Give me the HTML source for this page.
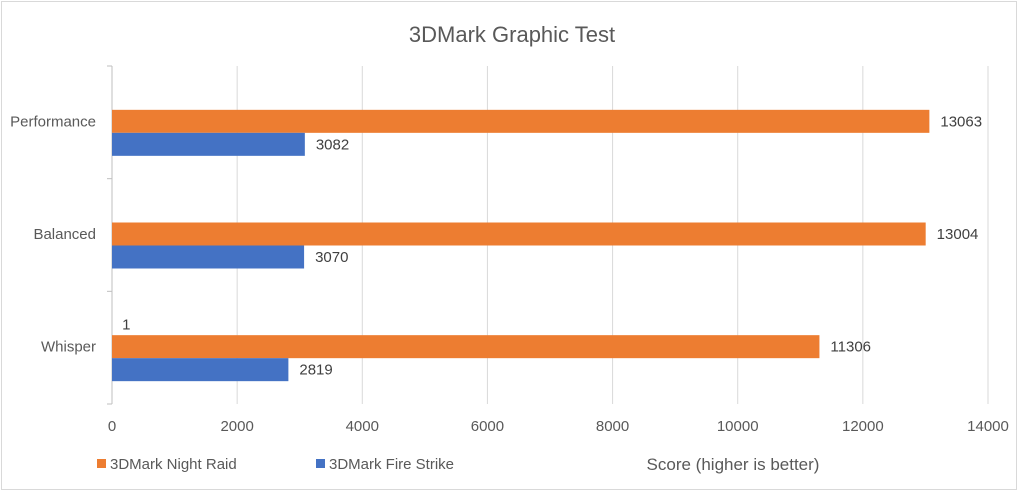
<!DOCTYPE html>
<html><head><meta charset="utf-8"><style>
body{margin:0;background:#fff;font-family:"Liberation Sans",sans-serif;}
#wrap{position:relative;width:1024px;height:494px;}
</style></head><body>
<div id="wrap">
<svg id="svg" width="1024" height="494" xmlns="http://www.w3.org/2000/svg">
<rect x="1.5" y="1.5" width="1015" height="488" fill="#fff" stroke="#d9d9d9"/>
<text x="512" y="42" text-anchor="middle" font-size="22" fill="#595959">3DMark Graphic Test</text>
<g id="grid"></g><g id="bars"></g><g id="labels"></g>
<rect x="97" y="459" width="9" height="9" fill="#ed7d31"/>
<text x="110" y="469" font-size="15" fill="#595959">3DMark Night Raid</text>
<rect x="316" y="459" width="9" height="9" fill="#4472c4"/>
<text x="329" y="469" font-size="15" fill="#595959">3DMark Fire Strike</text>
<text x="733" y="470" text-anchor="middle" font-size="17" fill="#595959">Score (higher is better)</text>
</svg></div>
<script>
const categories=["Performance","Balanced","Whisper"];
const nightRaid=[13063,13004,11306];
const fireStrike=[3082,3070,2819];
const hiddenSeries=[null,null,1];
const xTicks=[0,2000,4000,6000,8000,10000,12000,14000];
const NS="http://www.w3.org/2000/svg";
const x0=112,x1=988,xMax=14000,yTop=66,yBot=404;
const xs=v=>x0+v/xMax*(x1-x0);
const band=(yBot-yTop)/categories.length;
function mk(t,a,p){const e=document.createElementNS(NS,t);for(const k in a)e.setAttribute(k,a[k]);p.appendChild(e);return e;}
const g=document.getElementById('grid'),b=document.getElementById('bars'),l=document.getElementById('labels');
xTicks.forEach((t,i)=>{
 const x=xs(t);
 if(i>0){const ln=mk('line',{x1:x,x2:x,y1:yTop,y2:yBot,stroke:'#d9d9d9'},g);
 
 }
 const tx=mk('text',{x:x,y:431,'text-anchor':'middle','font-size':15,fill:'#595959'},l);
 tx.textContent=t;
 
 
});
const ax=mk('line',{x1:x0,x2:x0,y1:yTop,y2:yBot,stroke:'#bfbfbf'},g);


for(let i=0;i<=categories.length;i++){
 const y=yTop+band*i;
 const tk=mk('line',{x1:x0-5,x2:x0,y1:y,y2:y,stroke:'#bfbfbf'},g);
 
 
}
categories.forEach((c,i)=>{
 const cy=yTop+band*i+band/2;
 const bh=23;
 const t=mk('text',{x:96,y:cy+4,'text-anchor':'end','font-size':15,fill:'#595959'},l);
 t.textContent=c;
 
 
 if(hiddenSeries[i]!==null){
  const ht=mk('text',{x:xs(hiddenSeries[i])+10,y:cy-18,'font-size':15,fill:'#404040'},l);
  ht.textContent=hiddenSeries[i];
  
  
 }
 [[nightRaid,'#ed7d31',cy-bh/2-1],[fireStrike,'#4472c4',cy+bh/2-1]].forEach(([arr,col,y],s)=>{
  const r=mk('rect',{x:x0,y:y,width:xs(arr[i])-x0,height:bh,fill:col},b);
  
  
  const vt=mk('text',{x:xs(arr[i])+11,y:y+bh/2+5,'font-size':15,fill:'#404040'},l);
  vt.textContent=arr[i];
  
  
 });
});
</script>
</body></html>
